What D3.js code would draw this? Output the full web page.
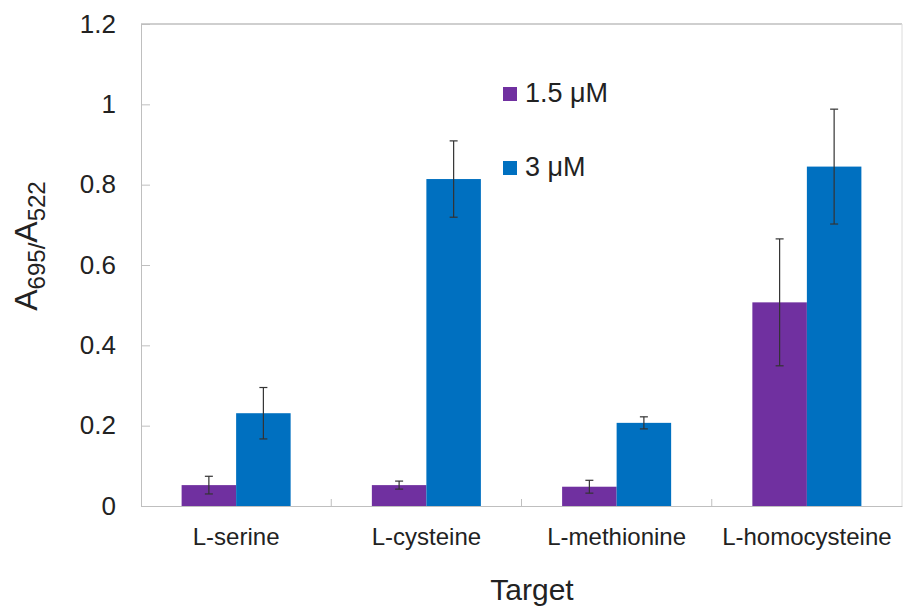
<!DOCTYPE html>
<html>
<head>
<meta charset="utf-8">
<script src="https://cdn.jsdelivr.net/npm/d3@7"></script>
<style>
  body { margin: 0; background: #fff; }
  text { font-family: "Liberation Sans", Arial, sans-serif; fill: #222; }
</style>
</head>
<body>
<svg id="canvas" width="903" height="608"></svg>
<script>
let categories = ['L-serine', 'L-cysteine', 'L-methionine', 'L-homocysteine'];
let series = ['1.5 μM', '3 μM'];
let colors = ['#7030a0', '#0070c0'];
let values15 = [0.052, 0.052, 0.048, 0.507];
let errors15 = [0.022, 0.010, 0.016, 0.158];
let values3 = [0.231, 0.814, 0.207, 0.845];
let errors3 = [0.064, 0.095, 0.015, 0.143];
let yTicks = [0, 0.2, 0.4, 0.6, 0.8, 1, 1.2];

let svg = d3.select('#canvas');

let plotLeft = 141, plotRight = 902, plotTop = 24, plotBottom = 506;

let x0 = d3.scaleBand().domain(categories).range([plotLeft, plotRight]);
let x1 = d3.scaleBand().domain(series).range([0, x0.bandwidth()]).paddingOuter(0.745);
let y = d3.scaleLinear().domain([0, 1.2]).range([plotBottom, plotTop]);

let rows = [];
categories.forEach((c, i) => {
  rows.push({ cat: c, s: series[0], v: values15[i], e: errors15[i], color: colors[0] });
  rows.push({ cat: c, s: series[1], v: values3[i], e: errors3[i], color: colors[1] });
});

// plot frame
svg.append('line')
  .attr('x1', plotLeft).attr('x2', plotRight)
  .attr('y1', plotTop).attr('y2', plotTop)
  .attr('stroke', '#cfcfcf').attr('stroke-width', 2);
svg.append('line')
  .attr('x1', plotRight).attr('x2', plotRight)
  .attr('y1', plotTop).attr('y2', plotBottom)
  .attr('stroke', '#dcdcdc').attr('stroke-width', 1);

// y axis
let yAxis = svg.append('g')
  .attr('transform', 'translate(' + plotLeft + ',0)')
  .call(d3.axisLeft(y).tickValues(yTicks).tickSize(-9).tickPadding(25)
    .tickFormat(d => d3.format('')(+d.toFixed(1))));
yAxis.select('.domain').attr('stroke', '#bfbfbf');
yAxis.selectAll('.tick line').attr('stroke', '#bfbfbf');
yAxis.selectAll('.tick text')
  .attr('font-size', 26).attr('fill', '#222')
  .attr('font-family', '"Liberation Sans", Arial, sans-serif');

// bars
svg.selectAll('rect.bar')
  .data(rows)
  .enter()
  .append('rect')
  .attr('class', 'bar')
  .attr('x', d => x0(d.cat) + x1(d.s))
  .attr('y', d => y(d.v))
  .attr('width', x1.bandwidth())
  .attr('height', d => y(0) - y(d.v))
  .attr('fill', d => d.color);

// error bars
let eb = svg.selectAll('g.err')
  .data(rows)
  .enter()
  .append('g')
  .attr('class', 'err')
  .attr('stroke', '#333')
  .attr('stroke-width', 1.2);
let cx = d => x0(d.cat) + x1(d.s) + x1.bandwidth() / 2;
eb.append('line')
  .attr('x1', cx).attr('x2', cx)
  .attr('y1', d => y(d.v + d.e)).attr('y2', d => y(d.v - d.e));
eb.append('line')
  .attr('x1', d => cx(d) - 4).attr('x2', d => cx(d) + 4)
  .attr('y1', d => y(d.v + d.e)).attr('y2', d => y(d.v + d.e));
eb.append('line')
  .attr('x1', d => cx(d) - 4).attr('x2', d => cx(d) + 4)
  .attr('y1', d => y(d.v - d.e)).attr('y2', d => y(d.v - d.e));

// x axis
let xAxis = svg.append('g')
  .attr('transform', 'translate(0,' + plotBottom + ')')
  .call(d3.axisBottom(x0).tickSize(0).tickPadding(22));
xAxis.select('.domain').attr('stroke', '#bfbfbf');
xAxis.selectAll('.tick text')
  .attr('font-size', 24).attr('fill', '#222')
  .attr('font-family', '"Liberation Sans", Arial, sans-serif');

svg.selectAll('line.cattick')
  .data(categories.slice(1))
  .enter()
  .append('line')
  .attr('class', 'cattick')
  .attr('x1', d => x0(d)).attr('x2', d => x0(d))
  .attr('y1', plotBottom).attr('y2', plotBottom - 7)
  .attr('stroke', '#bfbfbf');

// axis titles
svg.append('text')
  .attr('x', 532)
  .attr('y', 600)
  .attr('text-anchor', 'middle')
  .attr('font-size', 30)
  .text('Target');

let yt = svg.append('text')
  .attr('transform', 'translate(37,' + ((180 + 312) / 2) + ') rotate(-90)')
  .attr('text-anchor', 'middle')
  .attr('font-size', 32);
yt.append('tspan').text('A');
yt.append('tspan').attr('font-size', 24).attr('dy', 8).text('695/');
yt.append('tspan').attr('dy', -8).text('A');
yt.append('tspan').attr('font-size', 24).attr('dy', 8).text('522');

// legend
let legend = svg.selectAll('g.legend')
  .data(series)
  .enter()
  .append('g')
  .attr('class', 'legend')
  .attr('transform', (d, i) => 'translate(503,' + (87 + i * 74) + ')');
legend.append('rect')
  .attr('width', 14).attr('height', 14)
  .attr('fill', (d, i) => colors[i]);
legend.append('text')
  .attr('x', 22).attr('y', 15)
  .attr('font-size', 27)
  .text(d => d);
</script>
</body>
</html>
